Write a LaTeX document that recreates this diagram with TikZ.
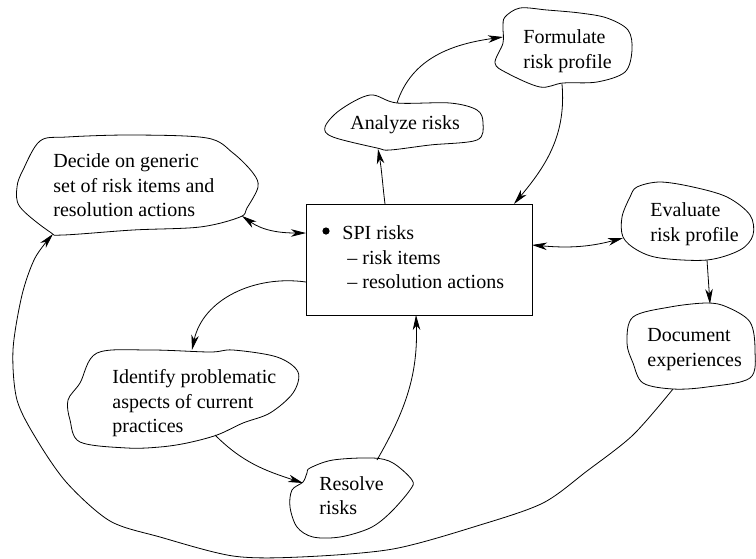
\documentclass[tikz,border=0pt]{standalone}
\usepackage{fontspec}
\setmainfont{Liberation Serif}
\usetikzlibrary{arrows.meta}
\begin{document}
\begin{tikzpicture}[x=1pt,y=1pt,
  line width=0.8pt,
  blob/.style={line width=0.8pt, smooth cycle, tension=0.55},
  label/.style={anchor=north west, inner sep=0pt, align=left,
    font=\fontsize{20}{24.5}\selectfont},
  link/.style={line width=0.8pt, -{Stealth[length=15pt,width=7.5pt,inset=4.5pt]}},
  twoway/.style={line width=0.8pt, {Stealth[length=15pt,width=7.5pt,inset=4.5pt]}-{Stealth[length=15pt,width=7.5pt,inset=4.5pt]}}
]
\useasboundingbox (0,0) rectangle (756,-558);

% central box with the SPI risks
\node[draw, minimum width=226pt, minimum height=111pt, inner sep=0pt] (spi) at (419,-259.5) {};
\fill (326,-231) circle (3.6pt);
\node[label] (spitext) at (342,-225.3)
  {SPI risks\\\hspace*{5pt}\textendash\ risk items\\\hspace*{5pt}\textendash\ resolution actions};

% activity blobs
\draw[blob] plot coordinates {(40,-141) (67,-137) (133,-135) (207,-138) (233,-153) (253,-173)
  (258,-187) (247,-208) (240,-217) (200,-227) (133,-230) (63,-235) (50,-232) (20,-207)
  (17,-187) (23,-170)};
\node[label] (decide) at (53,-153.3) {Decide on generic\\set of risk items and\\resolution actions};

\draw[blob] plot coordinates {(340,-110) (370,-95) (397,-103) (450,-103) (477,-110) (483,-123)
  (477,-140) (430,-145) (390,-150) (377,-148) (333,-137) (325,-127)};
\node[label] (analyze) at (350,-115.3) {Analyze risks};

\draw[blob] plot coordinates {(505,-17) (520,-8) (547,-10) (580,-13) (607,-18) (628,-30)
  (632,-50) (625,-72) (597,-82) (563,-83) (540,-87) (507,-73) (495,-63) (503,-43) (503,-27)};
\node[label] (formulate) at (523,-29.3) {Formulate\\risk profile};

\draw[blob] plot coordinates {(637,-187) (660,-182) (693,-187) (727,-197) (750,-215) (753,-235)
  (740,-250) (707,-260) (660,-258) (637,-250) (623,-237) (622,-217) (630,-197)};
\node[label] (evaluate) at (650,-202.3) {Evaluate\\risk profile};

\draw[blob] plot coordinates {(633,-317) (670,-307) (707,-303) (727,-307) (750,-322) (755,-350)
  (750,-378) (707,-387) (673,-389) (643,-383) (633,-363) (627,-343)};
\node[label] (document) at (647,-328.3) {Document\\experiences};

\draw[blob] plot coordinates {(97,-353) (150,-350) (210,-352) (233,-350) (277,-357) (298,-372)
  (293,-393) (270,-413) (243,-423) (217,-435) (187,-443) (160,-447) (127,-448) (80,-442)
  (70,-420) (68,-400) (80,-383)};
\node[label] (identify) at (112,-369.3) {Identify problematic\\aspects of current\\practices};

\draw[blob] plot coordinates {(310,-468) (333,-460) (373,-458) (393,-463) (412,-480) (410,-490)
  (390,-513) (370,-528) (340,-537) (313,-537) (297,-527) (290,-507) (292,-490) (303,-482)
  (307,-473)};
\node[label, font=\fontsize{20}{23.5}\selectfont] (resolve) at (319,-476.3) {Resolve\\risks};

% connector end points on the outlines
\coordinate (decideE) at (242,-216);
\coordinate (decideSW) at (53,-234);
\coordinate (analyzeS) at (378,-149);
\coordinate (analyzeN) at (397,-103);
\coordinate (formulateW) at (503,-37);
\coordinate (formulateS) at (562,-84);
\coordinate (evaluateW) at (623,-238);
\coordinate (evaluateS) at (707,-260);
\coordinate (documentN) at (710,-304);
\coordinate (documentS) at (673,-389);
\coordinate (identifyN) at (192,-350);
\coordinate (identifyS) at (215,-435);
\coordinate (resolveW) at (303,-483);
\coordinate (resolveN) at (377,-460);
\coordinate (spiW1) at (306,-233);
\coordinate (spiW2) at (306,-282);
\coordinate (spiN1) at (385,-204);
\coordinate (spiN2) at (514,-204);
\coordinate (spiE) at (532,-245);
\coordinate (spiS) at (416,-315);

% connectors
\draw[twoway] (decideE) to[out=-35, in=180] (spiW1);
\draw[link] (spiN1) to[out=97, in=-80] (analyzeS);
\draw[link] (analyzeN) to[out=72, in=188] (formulateW);
\draw[link] (formulateS) to[out=-85, in=50] (spiN2);
\draw[twoway] (spiE) to[out=-5, in=195] (evaluateW);
\draw[link] (evaluateS) -- (documentN);
\draw[link] (spiW2) to[out=172, in=78] (identifyN);
\draw[link] (identifyS) to[out=-45, in=162] (resolveW);
\draw[link] (resolveN) to[out=60, in=-88] (spiS);

% long return loop round the bottom
\draw[link] plot[smooth, tension=0.5] coordinates {(documentS) (633,-435) (587,-471) (543,-503)
  (480,-525) (393,-549) (300,-557) (233,-556) (160,-537) (110,-521) (67,-483) (37,-440)
  (17,-400) (13,-350) (22,-295) (35,-258) (decideSW)};
\end{tikzpicture}
\end{document}
